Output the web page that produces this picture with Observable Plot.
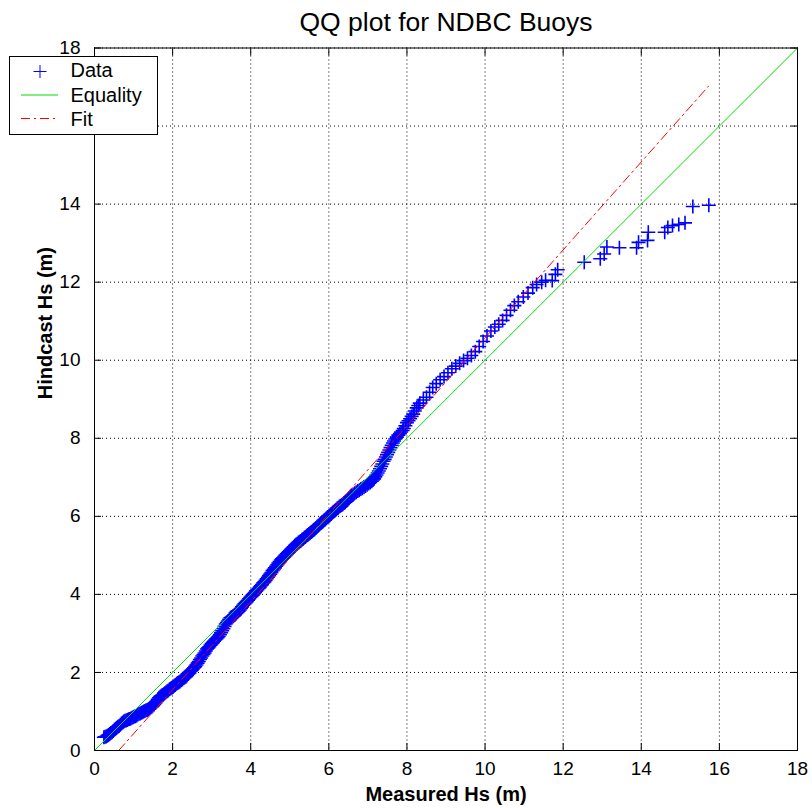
<!DOCTYPE html>
<html><head><meta charset="utf-8">
<script src="https://cdn.jsdelivr.net/npm/d3@7"></script>
<script src="https://cdn.jsdelivr.net/npm/@observablehq/plot@0.6"></script>
<style>body{margin:0;background:#fff}#chart svg{display:block}</style>
</head><body><div id="chart"></div>
<script>
// QQ pairs: [measured Hs, hindcast Hs] (m)
const qqPairs = [
[0.24,0.34],[0.30,0.36],[0.36,0.40],[0.42,0.45],[0.48,0.50],[0.54,0.56],[0.60,0.61],[0.66,0.66],
[0.72,0.72],[0.78,0.76],[0.84,0.78],[0.90,0.81],[0.96,0.84],[1.02,0.87],[1.08,0.90],[1.14,0.94],
[1.20,0.97],[1.26,1.00],[1.32,1.03],[1.38,1.06],[1.44,1.10],[1.50,1.15],[1.56,1.22],[1.62,1.31],
[1.68,1.38],[1.74,1.42],[1.80,1.47],[1.86,1.52],[1.92,1.57],[1.98,1.61],[2.04,1.66],[2.10,1.71],
[2.16,1.75],[2.22,1.80],[2.28,1.85],[2.34,1.89],[2.40,1.96],[2.46,2.03],[2.52,2.09],[2.58,2.15],
[2.64,2.24],[2.70,2.33],[2.76,2.42],[2.82,2.50],[2.88,2.60],[2.94,2.66],[3.00,2.74],[3.06,2.80],
[3.12,2.86],[3.18,2.92],[3.24,3.02],[3.30,3.12],[3.36,3.24],[3.42,3.32],[3.48,3.40],[3.54,3.44],
[3.60,3.48],[3.66,3.54],[3.72,3.60],[3.78,3.68],[3.84,3.76],[3.90,3.82],[3.96,3.89],[4.02,3.95],
[4.08,4.02],[4.14,4.09],[4.20,4.15],[4.26,4.22],[4.32,4.29],[4.38,4.36],[4.44,4.44],[4.50,4.52],
[4.56,4.61],[4.62,4.68],[4.68,4.76],[4.74,4.84],[4.80,4.91],[4.86,4.97],[4.92,5.03],[4.98,5.09],
[5.04,5.15],[5.10,5.22],[5.16,5.28],[5.22,5.33],[5.28,5.37],[5.34,5.42],[5.40,5.47],[5.46,5.52],
[5.52,5.57],[5.58,5.62],[5.64,5.67],[5.70,5.73],[5.76,5.79],[5.82,5.85],[5.88,5.90],[5.94,5.95],
[6.00,6.00],[6.06,6.06],[6.12,6.12],[6.18,6.17],[6.24,6.22],[6.30,6.27],[6.36,6.31],[6.42,6.36],
[6.48,6.42],[6.55,6.50],[6.62,6.56],[6.70,6.62],[6.78,6.67],[6.86,6.72],[6.94,6.78],[7.02,6.84],
[7.10,6.90],[7.16,6.96],[7.22,7.06],[7.28,7.16],[7.34,7.28],[7.40,7.41],[7.46,7.52],[7.52,7.64],
[7.58,7.76],[7.64,7.88],[7.70,7.98],[7.78,8.08],[7.85,8.16],[7.92,8.25],[8.00,8.40],[8.08,8.50],
[8.16,8.62],[8.25,8.78],[8.33,8.90],[8.42,8.98],[8.50,9.05],[8.58,9.18],[8.66,9.30],[8.75,9.40],
[8.85,9.50],[8.95,9.58],[9.05,9.68],[9.15,9.78],[9.25,9.85],[9.35,9.92],[9.45,9.99],[9.55,10.05],
[9.65,10.12],[9.75,10.22],[9.85,10.35],[9.95,10.48],[10.05,10.62],[10.15,10.75],[10.25,10.85],[10.35,10.92],
[10.45,11.02],[10.55,11.15],[10.65,11.28],[10.75,11.40],[10.85,11.50],[10.98,11.62],[11.10,11.72],[11.22,11.86],
[11.32,11.94],[11.45,12.00],[11.55,12.05],[11.72,12.04],[11.80,12.20],[11.86,12.32],
[12.54,12.51],[12.95,12.60],[13.05,12.72],[13.12,12.90],[13.44,12.88],[13.88,12.88],[13.93,13.02],[14.16,13.07],
[14.18,13.28],[14.60,13.28],[14.68,13.40],[14.80,13.45],[14.96,13.48],[15.12,13.52],[15.32,13.94],[15.73,13.97],
// further readings between the ones above, where the band of markers is dense
[0.27,0.35],[0.33,0.38],[0.39,0.42],[0.45,0.47],[0.51,0.53],[0.57,0.58],[0.63,0.63],[0.69,0.69],
[0.75,0.74],[0.81,0.77],[0.87,0.80],[0.93,0.82],[0.99,0.85],[1.05,0.88],[1.11,0.92],[1.17,0.95],
[1.23,0.98],[1.29,1.01],[1.35,1.04],[1.41,1.08],[1.47,1.12],[1.53,1.18],[1.59,1.26],[1.65,1.35],
[1.71,1.40],[1.77,1.44],[1.83,1.49],[1.89,1.54],[1.95,1.59],[2.01,1.63],[2.07,1.68],[2.13,1.73],
[2.19,1.77],[2.25,1.82],[2.31,1.87],[2.37,1.92],[2.43,1.99],[2.49,2.06],[2.55,2.12],[2.61,2.19],
[2.67,2.28],[2.73,2.37],[2.79,2.46],[2.85,2.55],[2.91,2.63],[2.97,2.70],[3.03,2.77],[3.09,2.83],
[3.15,2.89],[3.21,2.97],[3.27,3.07],[3.33,3.18],[3.39,3.28],[3.45,3.36],[3.51,3.42],[3.57,3.46],
[3.63,3.51],[3.69,3.57],[3.75,3.64],[3.81,3.72],[3.87,3.79],[3.93,3.85],[3.99,3.92],[4.05,3.98],
[4.11,4.05],[4.17,4.12],[4.23,4.18],[4.29,4.25],[4.35,4.32],[4.41,4.40],[4.47,4.48],[4.53,4.56],
[4.59,4.64],[4.65,4.72],[4.71,4.80],[4.77,4.88],[4.83,4.94],[4.89,5.00],[4.95,5.06],[5.01,5.12],
[5.07,5.18],[5.13,5.25],[5.19,5.30],[5.25,5.35],[5.31,5.40],[5.37,5.45],[5.43,5.50],[5.49,5.55],
[5.55,5.60],[5.61,5.65],[5.67,5.70],[5.73,5.76],[5.79,5.82],[5.85,5.87],[5.91,5.92],[5.97,5.98],
[6.03,6.03],[6.09,6.09],[6.15,6.14],[6.21,6.20],[6.27,6.25],[6.33,6.29],[6.39,6.34],[6.45,6.39],
[6.51,6.46],[6.58,6.53],[6.66,6.59],[6.74,6.65],[6.82,6.70],[6.90,6.75],[6.98,6.81],[7.06,6.87],
[7.13,6.93],[7.19,7.01],[7.25,7.11],[7.31,7.22],[7.37,7.34],[7.43,7.46],[7.49,7.58],[7.55,7.70],
[7.61,7.82],[7.67,7.93],[7.74,8.03],[7.82,8.12],[7.89,8.20],[7.96,8.32],[8.04,8.45],[8.12,8.56],
[8.20,8.70],[8.29,8.84]
];
const equalityX = [0, 18];
const equalityY = [0, 18];
const fitX = [0.62, 15.72];
const fitY = [0, 17.02];
const xTicks = [0, 2, 4, 6, 8, 10, 12, 14, 16, 18];
const yTicks = [0, 2, 4, 6, 8, 10, 12, 14, 16, 18];
// the "16" label on the y axis is hidden behind the legend in the original
const yTickLabels = [0, 2, 4, 6, 8, 10, 12, 14, 18];
const titleText = "QQ plot for NDBC Buoys";
const xLabel = "Measured Hs (m)";
const yLabel = "Hindcast Hs (m)";
const legendItems = ["Data", "Equality", "Fit"];

const FONT = "'Liberation Sans', Arial, Helvetica, sans-serif";
const BLUE = "#0000ff", GREEN = "#00dd00", RED = "#ff0000";
const FIT_DASH = "9,4,2,4";

const thinPlus = {
  draw(context, size) {
    const r = Math.sqrt(size / Math.PI);
    context.moveTo(-r, 0); context.lineTo(r, 0);
    context.moveTo(0, -r); context.lineTo(0, r);
  }
};

const eqData = equalityX.map((x, i) => ({x, y: equalityY[i]}));
const fitData = fitX.map((x, i) => ({x, y: fitY[i]}));

const chart = Plot.plot({
  width: 812,
  height: 808,
  marginLeft: 94,
  marginRight: 15,
  marginTop: 47.5,
  marginBottom: 58,
  style: {fontFamily: FONT, color: "black", background: "white", overflow: "visible"},
  x: {domain: [0, 18]},
  y: {domain: [0, 18]},
  marks: [
    Plot.gridX(xTicks, {stroke: "black", strokeOpacity: 1, strokeDasharray: "1,3"}),
    Plot.gridY(yTicks, {stroke: "black", strokeOpacity: 1, strokeDasharray: "1,3"}),
    Plot.dot(qqPairs, {x: d => d[0], y: d => d[1], symbol: thinPlus, r: 7, fill: "none", stroke: BLUE, strokeWidth: 1.6}),
    Plot.line(eqData, {x: "x", y: "y", stroke: GREEN, strokeWidth: 1}),
    Plot.line(fitData, {x: "x", y: "y", stroke: RED, strokeWidth: 1, strokeDasharray: FIT_DASH}),
    Plot.frame({stroke: "black", strokeWidth: 1}),
    Plot.axisX(xTicks, {anchor: "bottom", tickSize: -7, tickFormat: () => "", label: null}),
    Plot.axisX(xTicks, {anchor: "top", tickSize: -7, tickFormat: () => "", label: null}),
    Plot.axisY(yTicks, {anchor: "left", tickSize: -7, tickFormat: () => "", label: null}),
    Plot.axisY(yTicks, {anchor: "right", tickSize: -7, tickFormat: () => "", label: null}),
    Plot.axisX(xTicks, {anchor: "bottom", tickSize: 0, tickPadding: 11, fontSize: 19, label: null, tickFormat: d => String(d)}),
    Plot.axisY(yTickLabels, {anchor: "left", tickSize: 0, tickPadding: 14, fontSize: 19, label: null, tickFormat: d => String(d)}),
    Plot.text([xLabel], {frameAnchor: "bottom", dy: 50, lineAnchor: "bottom", fontSize: 20, fontWeight: "bold", fill: "black"}),
    Plot.text([yLabel], {frameAnchor: "left", dx: -49, rotate: -90, fontSize: 20, fontWeight: "bold", fill: "black"}),
    Plot.text([titleText], {frameAnchor: "top", dy: -17.5, lineAnchor: "bottom", fontSize: 26.5, fill: "black"})
  ]
});

document.getElementById("chart").appendChild(chart);

// Legend (drawn on top of the SVG, outside the plotting frame)
const svg = d3.select(chart);
const lg = svg.append("g").attr("font-family", FONT).attr("font-size", 20).attr("text-anchor", "start");
lg.append("rect").attr("x", 9.5).attr("y", 56.5).attr("width", 148).attr("height", 78)
  .attr("fill", "white").attr("stroke", "black").attr("stroke-width", 1);
const baselines = [77.3, 101.5, 126];
legendItems.forEach((t, i) => {
  lg.append("text").attr("x", 70.5).attr("y", baselines[i]).attr("fill", "black")
    .attr("text-anchor", "start").text(t);
});
lg.append("path").attr("d", "M33.5,71.5H46.5M40,65V78").attr("stroke", BLUE).attr("fill", "none");
lg.append("line").attr("x1", 21).attr("x2", 58).attr("y1", 95).attr("y2", 95).attr("stroke", GREEN);
lg.append("line").attr("x1", 21).attr("x2", 58).attr("y1", 118.5).attr("y2", 118.5).attr("stroke", RED).attr("stroke-dasharray", FIT_DASH);
</script></body></html>
